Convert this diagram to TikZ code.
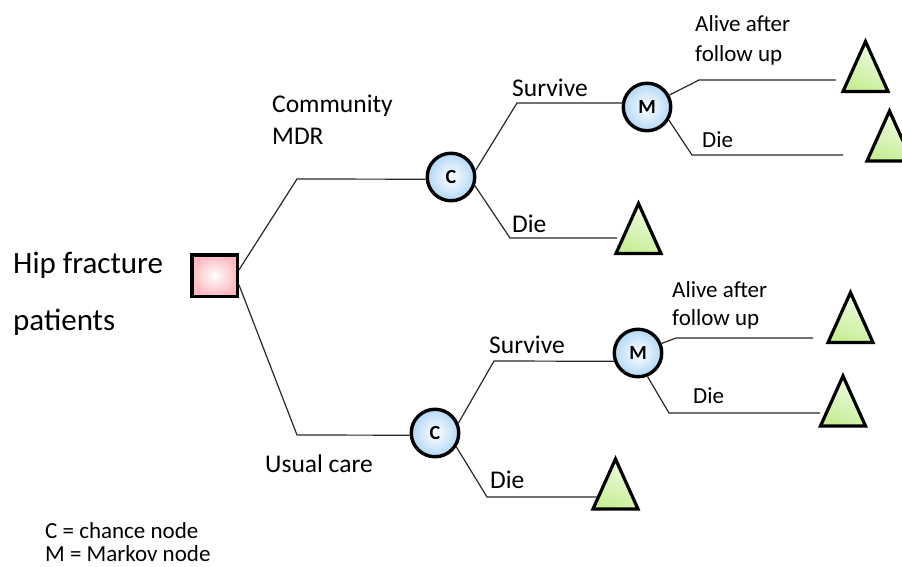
\documentclass[tikz,border=0pt]{standalone}
\usepackage{fontspec}
\setmainfont{Carlito}
\definecolor{cblue}{RGB}{178,216,246}
\definecolor{cpink}{RGB}{255,185,190}
\definecolor{tgl}{RGB}{240,251,230}
\definecolor{tgd}{RGB}{198,238,148}
\definecolor{lnc}{RGB}{40,40,40}
\begin{document}
\begin{tikzpicture}[x=1pt,y=-1pt,
  conn/.style={draw=lnc, line width=1.2pt},
  chance/.style={circle, draw=black, line width=3.4pt, inner color=white, outer color=cblue,
    minimum size=47.5pt, inner sep=0pt, font=\fontsize{20}{20}\selectfont\bfseries},
  decis/.style={rectangle, draw=black, line width=3.5pt, inner color=white, outer color=cpink,
    minimum width=45.5pt, minimum height=41.5pt, inner sep=0pt},
  tribox/.style={rectangle, minimum width=45pt, minimum height=50pt, inner sep=0pt, outer sep=0pt},
  tri/.style={draw=black, line width=3.2pt, line join=miter, top color=tgl, bottom color=tgd, shading angle=-25},
  lbl/.style={anchor=base west, inner sep=0pt, font=\fontsize{25.5}{25.5}\selectfont},
  lbm/.style={anchor=base west, inner sep=0pt, font=\fontsize{23}{23}\selectfont},
  big/.style={anchor=base west, inner sep=0pt, font=\fontsize{31}{31}\selectfont},
  leg/.style={anchor=base west, inner sep=0pt, font=\fontsize{23}{23}\selectfont}]
\useasboundingbox (0,0) rectangle (902,567);

% decision and chance nodes
\node[decis] (D) at (214.5,275.5) {};
\node[chance] (C1) at (451,177) {C};
\node[chance] (C2) at (435,433) {C};
\node[chance] (M1) at (647,107) {M};
\node[chance] (M2) at (638,353) {M};

% terminal triangles
\node[tribox] (T1) at (865.5,66.5) {};
\node[tribox] (T2) at (889.5,136) {};
\node[tribox] (T3) at (638.5,228.5) {};
\node[tribox] (T4) at (850.5,317.5) {};
\node[tribox] (T5) at (843,401) {};
\node[tribox] (T6) at (615.5,484) {};
\foreach \t in {T1,T2,T3,T4,T5,T6}
  \path[tri] (\t.north) -- (\t.south east) -- (\t.south west) -- cycle;

% free ends of branches
\coordinate (e1) at (836,80);
\coordinate (e2) at (843,155);
\coordinate (e3) at (617,238);
\coordinate (e4) at (813,338);
\coordinate (e5) at (820,413);
\coordinate (e6) at (597,497);

% connectors
\draw[conn] (D.13) -- (297,179) -- (C1.185);
\draw[conn] (D.-21) -- (297,435) -- (C2.185);
\draw[conn] (C1.15) -- (517,103) -- (M1.171);
\draw[conn] (C1.-20) -- (510,238) -- (e3);
\draw[conn] (M1.28) -- (699,80) -- (e1);
\draw[conn] (M1.-31) -- (692,155) -- (e2);
\draw[conn] (C2.23) -- (494,361) -- (M2.199);
\draw[conn] (C2.-33) -- (487,497) -- (e6);
\draw[conn] (M2.22) -- (676,338) -- (e4);
\draw[conn] (M2.-68) -- (669,413) -- (e5);

% labels
\node[big] (hip1) at (13,273) {Hip fracture};
\node[big] (hip2) at (13,330) {patients};
\node[lbl] (com1) at (272,113) {Community};
\node[lbl] (com2) at (272,145) {MDR};
\node[lbl] (uc) at (265,472) {Usual care};
\node[lbl] (s1) at (512,97) {Survive};
\node[lbl] (d1) at (512,232) {Die};
\node[lbm] (a1) at (695,32) {Alive after};
\node[lbm] (a1b) at (695,62) {follow up};
\node[lbm] (d2) at (702,147) {Die};
\node[lbl] (s2) at (489,353) {Survive};
\node[lbl] (d3) at (490,488) {Die};
\node[lbm] (a2) at (672,297) {Alive after};
\node[lbm] (a2b) at (672,325) {follow up};
\node[lbm] (d4) at (693,403) {Die};
\node[leg] (l1) at (45,538) {C = chance node};
\node[leg] (l2) at (45,561) {M = Markov node};
\end{tikzpicture}
\end{document}
